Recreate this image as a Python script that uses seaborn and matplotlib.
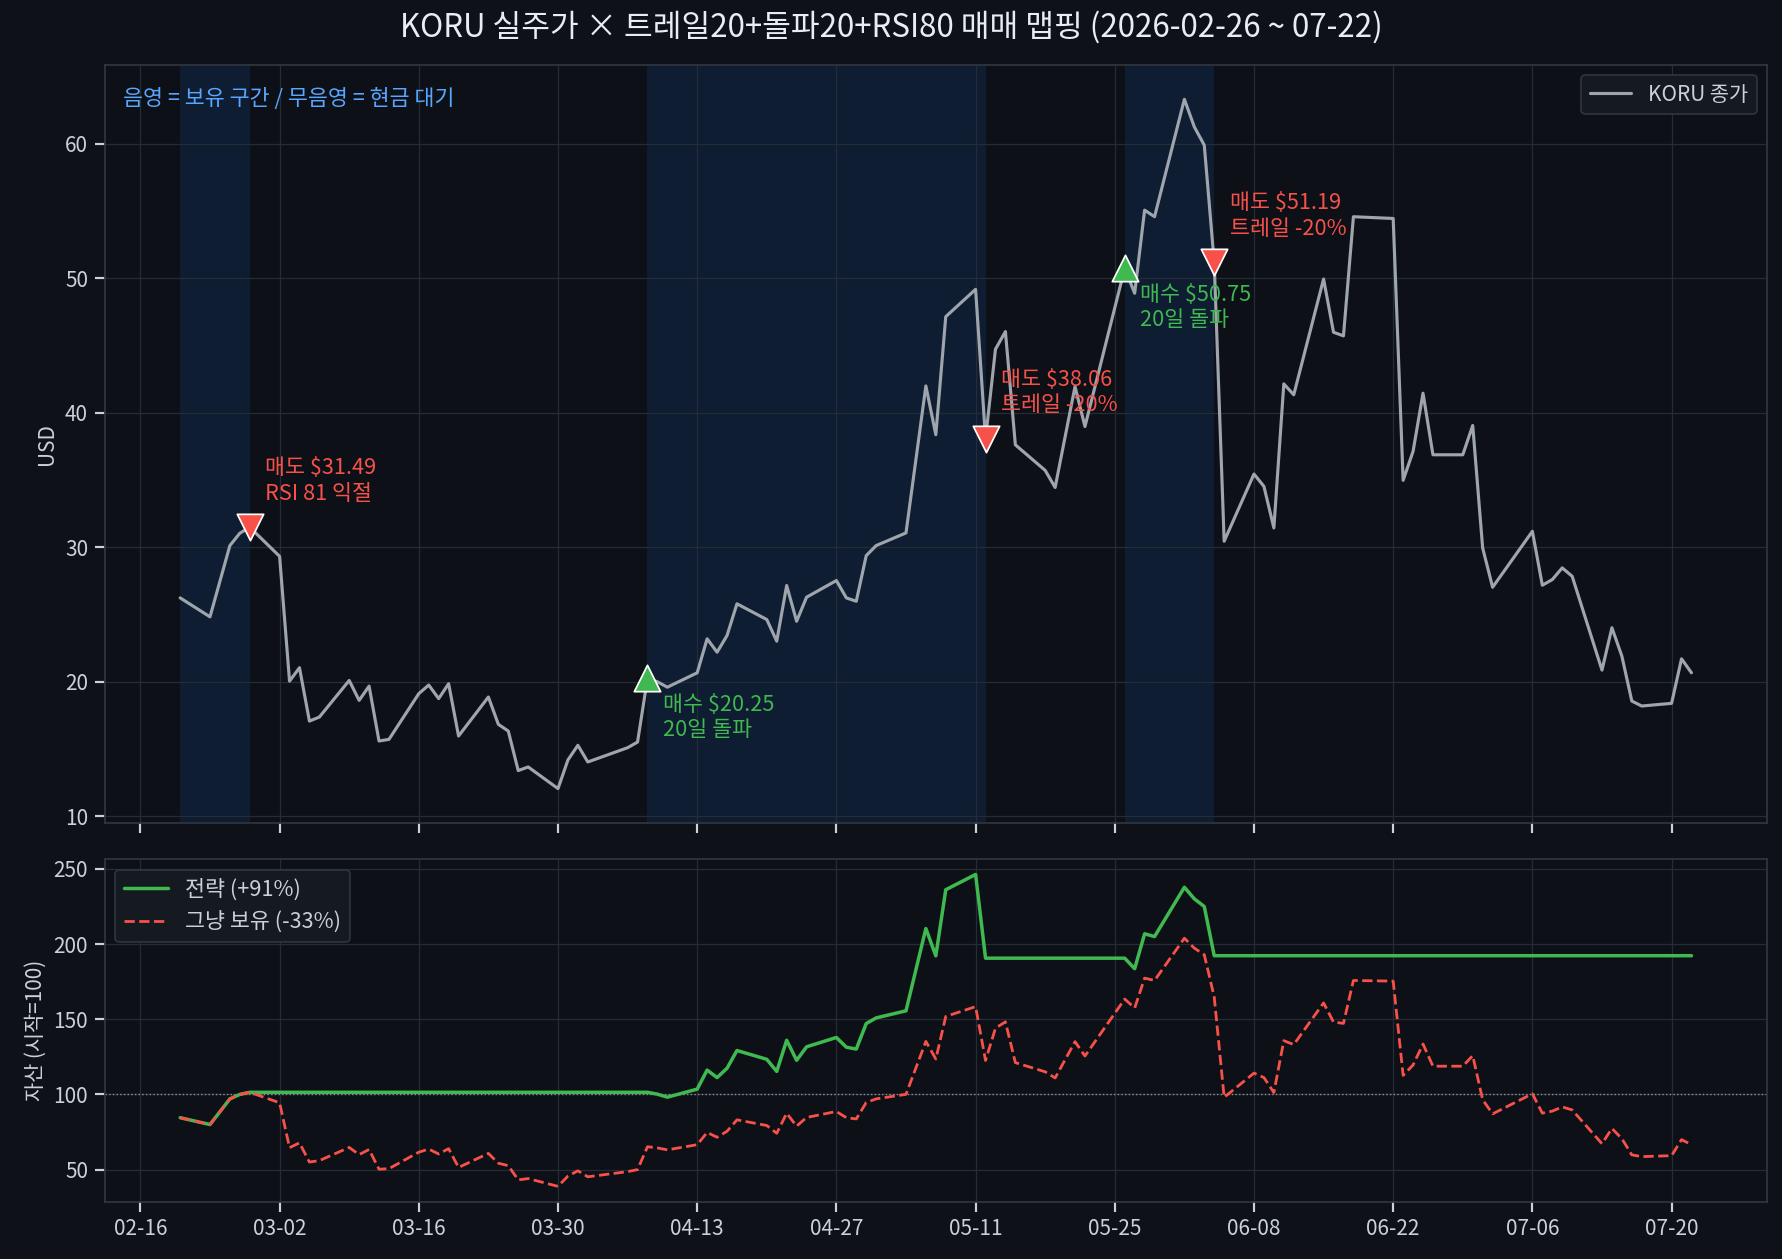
import pandas as pd
import matplotlib
matplotlib.use('Agg')
import matplotlib.pyplot as plt
import matplotlib.dates as mdates
import matplotlib.gridspec as gridspec
import seaborn as sns

# KORU daily closes
dates = ['2026-02-20', '2026-02-23', '2026-02-25', '2026-02-26', '2026-02-27',
         '2026-03-02', '2026-03-03', '2026-03-04', '2026-03-05', '2026-03-06',
         '2026-03-09', '2026-03-10', '2026-03-11', '2026-03-12', '2026-03-13',
         '2026-03-16', '2026-03-17', '2026-03-18', '2026-03-19', '2026-03-20',
         '2026-03-23', '2026-03-24', '2026-03-25', '2026-03-26', '2026-03-27',
         '2026-03-30', '2026-03-31', '2026-04-01', '2026-04-02', '2026-04-06',
         '2026-04-07', '2026-04-08', '2026-04-09', '2026-04-10', '2026-04-13',
         '2026-04-14', '2026-04-15', '2026-04-16', '2026-04-17', '2026-04-20',
         '2026-04-21', '2026-04-22', '2026-04-23', '2026-04-24', '2026-04-27',
         '2026-04-28', '2026-04-29', '2026-04-30', '2026-05-01', '2026-05-04',
         '2026-05-06', '2026-05-07', '2026-05-08', '2026-05-11', '2026-05-12',
         '2026-05-13', '2026-05-14', '2026-05-15', '2026-05-18', '2026-05-19',
         '2026-05-21', '2026-05-22', '2026-05-26', '2026-05-27', '2026-05-28',
         '2026-05-29', '2026-06-01', '2026-06-02', '2026-06-03', '2026-06-04',
         '2026-06-05', '2026-06-08', '2026-06-09', '2026-06-10', '2026-06-11',
         '2026-06-12', '2026-06-15', '2026-06-16', '2026-06-17', '2026-06-18',
         '2026-06-22', '2026-06-23', '2026-06-24', '2026-06-25', '2026-06-26',
         '2026-06-29', '2026-06-30', '2026-07-01', '2026-07-02', '2026-07-06',
         '2026-07-07', '2026-07-08', '2026-07-09', '2026-07-10', '2026-07-13',
         '2026-07-14', '2026-07-15', '2026-07-16', '2026-07-17', '2026-07-20',
         '2026-07-21', '2026-07-22']
close = [26.24, 24.83, 30.13, 31.05, 31.49,
         29.33, 20.05, 21.05, 17.08, 17.38,
         20.10, 18.62, 19.68, 15.60, 15.72,
         19.12, 19.76, 18.75, 19.86, 15.97,
         18.87, 16.84, 16.34, 13.40, 13.67,
         12.06, 14.19, 15.28, 14.04, 15.10,
         15.52, 20.25, 20.00, 19.60, 20.67,
         23.20, 22.20, 23.44, 25.80, 24.63,
         23.02, 27.16, 24.50, 26.29, 27.53,
         26.24, 25.99, 29.38, 30.13, 31.07,
         42.00, 38.37, 47.15, 49.18, 38.06,
         44.73, 46.04, 37.62, 35.72, 34.45,
         41.95, 38.98, 50.75, 48.89, 55.07,
         54.58, 63.31, 61.26, 59.90, 51.19,
         30.45, 35.45, 34.53, 31.44, 42.15,
         41.34, 49.95, 45.99, 45.72, 54.58,
         54.45, 34.98, 37.13, 41.46, 36.88,
         36.88, 39.06, 29.95, 27.03, 31.19,
         27.18, 27.60, 28.47, 27.85, 20.87,
         24.02, 21.91, 18.57, 18.20, 18.40,
         21.71, 20.67]

# Trades
buy_dates = ['2026-04-08', '2026-05-26']
buy_px = [20.25, 50.75]
buy_notes = ['20일 돌파', '20일 돌파']
sell_dates = ['2026-02-27', '2026-05-12', '2026-06-04']
sell_px = [31.49, 38.06, 51.19]
sell_notes = ['RSI 81 익절', '트레일 -20%', '트레일 -20%']
hold_spans = [('2026-02-20', '2026-02-27'),
              ('2026-04-08', '2026-05-12'),
              ('2026-05-26', '2026-06-04')]
base_date = '2026-02-26'
tick_dates = pd.date_range('2026-02-16', '2026-07-20', freq='14D')

# Build the frame and equity curves
df = pd.DataFrame({'date': pd.to_datetime(dates), 'close': close})
df['pos'] = 0
for a, b in hold_spans:
    df.loc[(df['date'] >= a) & (df['date'] < b), 'pos'] = 1
ret = df['close'].pct_change().fillna(0)
strat = (1 + ret * df['pos'].shift(1).fillna(0)).cumprod()
base_i = df.index[df['date'] == base_date][0]
df['strategy'] = strat / strat[base_i] * 100
df['hold'] = df['close'] / df['close'][base_i] * 100

# Style
BG = '#0e1117'
AX_BG = '#0d1117'
GRID = '#262c35'
SPINE = '#30363d'
TXT = '#c9d1d9'
GREEN = '#3fb950'
RED = '#f85149'

sns.set_theme(style='darkgrid')
plt.rcParams.update({
    'figure.facecolor': BG,
    'axes.facecolor': AX_BG,
    'axes.edgecolor': SPINE,
    'axes.labelcolor': TXT,
    'axes.grid': True,
    'grid.color': GRID,
    'grid.linewidth': 0.7,
    'xtick.color': TXT,
    'ytick.color': TXT,
    'xtick.bottom': True,
    'ytick.left': True,
    'xtick.labelsize': 12,
    'ytick.labelsize': 12,
    'axes.labelsize': 12,
    'axes.unicode_minus': False,
})
plt.rcParams['font.family'] = ['Noto Sans CJK KR', 'DejaVu Sans']

fig = plt.figure(figsize=(1782 / 125, 1259 / 125), dpi=125)
gs = gridspec.GridSpec(2, 1, height_ratios=[758, 343], hspace=0.065,
                       left=0.0587, right=0.9916, top=0.9485, bottom=0.0453)
ax0 = fig.add_subplot(gs[0])
ax1 = fig.add_subplot(gs[1], sharex=ax0)

# Top: price with holding spans and trade markers
for a, b in hold_spans:
    ax0.axvspan(pd.Timestamp(a), pd.Timestamp(b), color='#1f6feb',
                alpha=0.13, lw=0, zorder=0)
sns.lineplot(data=df, x='date', y='close', ax=ax0, color='#9ea5ad',
             linewidth=1.8, label='KORU 종가')
sns.scatterplot(x=pd.to_datetime(buy_dates), y=buy_px, ax=ax0, marker='^',
                s=230, color=GREEN, edgecolor='white', linewidth=1.0, zorder=5)
sns.scatterplot(x=pd.to_datetime(sell_dates), y=sell_px, ax=ax0, marker='v',
                s=230, color=RED, edgecolor='white', linewidth=1.0, zorder=5)

for d, p, n in zip(sell_dates, sell_px, sell_notes):
    ax0.annotate(f'매도 ${p:.2f}\n{n}', xy=(pd.Timestamp(d), p),
                 xytext=(9, 13), textcoords='offset points', color=RED,
                 fontsize=12.5, ha='left', va='bottom')
for d, p, n in zip(buy_dates, buy_px, buy_notes):
    ax0.annotate(f'매수 ${p:.2f}\n{n}', xy=(pd.Timestamp(d), p),
                 xytext=(9, -9), textcoords='offset points', color=GREEN,
                 fontsize=12.5, ha='left', va='top')

ax0.text(0.011, 0.955, '음영 = 보유 구간 / 무음영 = 현금 대기',
         transform=ax0.transAxes, color='#58a6ff', fontsize=12.5, va='center')
ax0.set(xlabel='', ylabel='USD')
ax0.legend(loc='upper right', facecolor='#161b22', edgecolor=SPINE,
           labelcolor=TXT, fontsize=12, framealpha=0.95)
ax0.tick_params(labelbottom=False)

# Bottom: equity curves
sns.lineplot(data=df, x='date', y='strategy', ax=ax1, color=GREEN,
             linewidth=2.0, label='전략 (+91%)')
sns.lineplot(data=df, x='date', y='hold', ax=ax1, color=RED,
             linewidth=1.6, linestyle='--', label='그냥 보유 (-33%)')
ax1.axhline(100, color='#8b949e', linewidth=0.8, linestyle=':', zorder=1)
ax1.set(xlabel='', ylabel='자산 (시작=100)')
ax1.legend(loc='upper left', facecolor='#161b22', edgecolor=SPINE,
           labelcolor=TXT, fontsize=12.5, framealpha=0.95)
ax1.set_xticks(tick_dates)
ax1.xaxis.set_major_formatter(mdates.DateFormatter('%m-%d'))

for ax in (ax0, ax1):
    for s in ax.spines.values():
        s.set_color(SPINE)
        s.set_linewidth(1.0)

fig.text(0.5, 0.978,
         'KORU 실주가 × 트레일20+돌파20+RSI80 매매 맵핑 (2026-02-26 ~ 07-22)',
         ha='center', va='center', fontsize=18, color='#e6edf3')

fig.savefig('out.png', dpi=125, facecolor=BG)
